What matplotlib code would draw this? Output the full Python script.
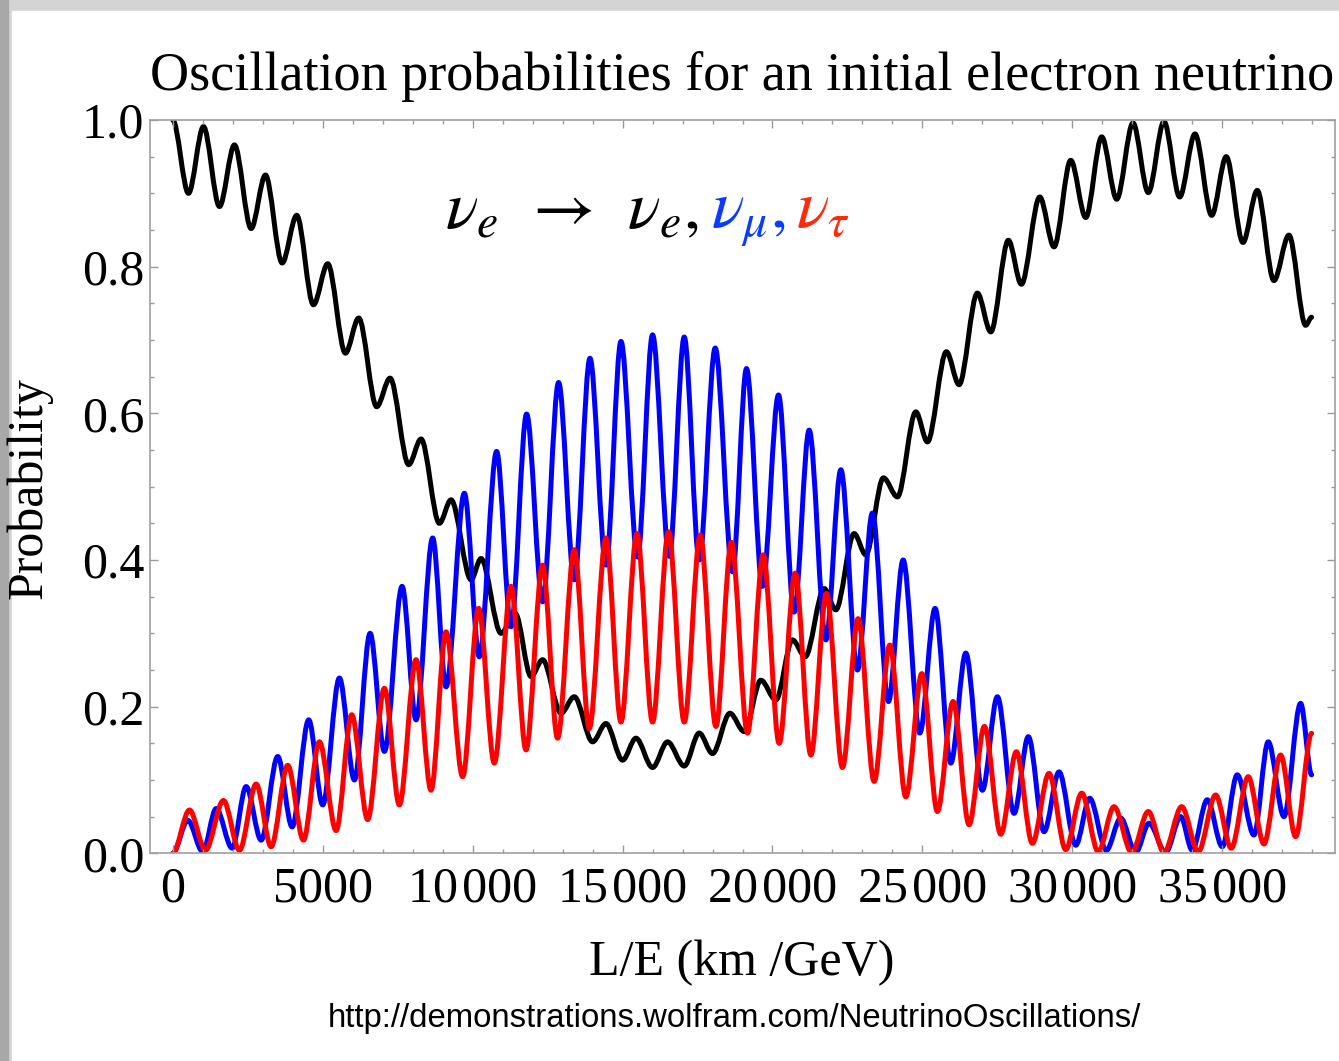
import matplotlib
matplotlib.use("Agg")
import matplotlib.pyplot as plt
from matplotlib.path import Path
from matplotlib.patches import PathPatch, Rectangle
from matplotlib.ticker import MultipleLocator

# extrema (peaks / troughs), L/E in km/GeV
ee_x = [0, 523, 1023, 1557, 2057, 2613, 3090, 3647, 4133, 4690,
        5167, 5757, 6200, 6800, 7247, 7867, 8280, 8890, 9280, 9947,
        10280, 10947, 11423, 11947, 12333, 12947, 13390, 14000, 14447, 15000,
        15447, 16000, 16500, 17057, 17557, 18000, 18580, 19057, 19613, 20113,
        20667, 21090, 21723, 22113, 22723, 23113, 23700, 24167, 24780, 25167,
        25800, 26223, 26833, 27280, 27867, 28300, 28913, 29390, 29947, 30447,
        30980, 31480, 32023, 32533, 33057, 33580, 34090, 34647, 35133, 35690,
        36167, 36723, 37223, 37780, 37980]
ee_p = [1.0, 0.900, 0.991, 0.882, 0.966, 0.852, 0.925, 0.805, 0.870, 0.748,
        0.804, 0.682, 0.730, 0.609, 0.648, 0.530, 0.565, 0.450, 0.482, 0.373,
        0.402, 0.300, 0.327, 0.241, 0.264, 0.191, 0.2135, 0.152, 0.177, 0.127,
        0.157, 0.117, 0.152, 0.119, 0.164, 0.136, 0.191, 0.166, 0.236, 0.209,
        0.291, 0.268, 0.361, 0.332, 0.436, 0.407, 0.512, 0.486, 0.602, 0.561,
        0.684, 0.639, 0.764, 0.711, 0.836, 0.776, 0.895, 0.827, 0.945, 0.867,
        0.977, 0.892, 0.996, 0.901, 0.998, 0.895, 0.981, 0.870, 0.950, 0.833,
        0.904, 0.781, 0.843, 0.720, 0.731]

emu_x = [0, 500, 1000, 1447, 1980, 2447, 2947, 3500, 3980, 4533,
         5000, 5557, 6057, 6580, 7057, 7647, 8113, 8667, 9113, 9723,
         10223, 10800, 11280, 11800, 12333, 12867, 13390, 13913, 14447, 14947,
         15500, 16000, 16557, 17057, 17557, 18090, 18667, 19133, 19667, 20200,
         20723, 21223, 21780, 22280, 22833, 23333, 23867, 24357, 24913, 25423,
         25947, 26447, 27000, 27500, 28057, 28533, 29057, 29557, 30113, 30580,
         31133, 31613, 32113, 32557, 33113, 33613, 34000, 34500, 35000, 35500,
         36057, 36533, 37057, 37613, 37980]
emu_p = [0, 0.045, 0.002, 0.061, 0.007, 0.091, 0.018, 0.132, 0.036, 0.182,
         0.066, 0.239, 0.100, 0.300, 0.139, 0.364, 0.182, 0.430, 0.227, 0.491,
         0.268, 0.548, 0.309, 0.599, 0.343, 0.642, 0.373, 0.675, 0.393, 0.698,
         0.404, 0.707, 0.405, 0.704, 0.400, 0.689, 0.384, 0.661, 0.364, 0.625,
         0.329, 0.577, 0.291, 0.523, 0.250, 0.464, 0.207, 0.400, 0.164, 0.334,
         0.123, 0.273, 0.086, 0.2135, 0.0545, 0.159, 0.0295, 0.111, 0.011, 0.075,
         0.004, 0.048, 0.001, 0.041, 0.001, 0.050, 0.004, 0.073, 0.009, 0.107,
         0.025, 0.152, 0.050, 0.2045, 0.107]

etau_x = [0, 557, 1090, 1690, 2223, 2780, 3280, 3833, 4357, 4890,
          5447, 5967, 6500, 7057, 7557, 8113, 8613, 9113, 9667, 10200,
          10723, 11280, 11780, 12333, 12833, 13390, 13890, 14447, 14947, 15480,
          16000, 16533, 17057, 17590, 18113, 18630, 19167, 19690, 20223, 20757,
          21280, 21800, 22333, 22857, 23390, 23913, 24447, 24980, 25500, 26023,
          26557, 27067, 27613, 28133, 28667, 29223, 29780, 30313, 30867, 31390,
          31980, 32533, 33057, 33647, 34200, 34780, 35300, 35867, 36390, 36947,
          37447, 37980]
etau_p = [0, 0.059, 0.004, 0.072, 0.004, 0.0945, 0.009, 0.120, 0.018, 0.152,
          0.031, 0.189, 0.046, 0.225, 0.066, 0.264, 0.086, 0.302, 0.1045, 0.334,
          0.123, 0.364, 0.141, 0.393, 0.157, 0.414, 0.170, 0.430, 0.179, 0.436,
          0.179, 0.4385, 0.179, 0.434, 0.173, 0.424, 0.164, 0.407, 0.150, 0.382,
          0.134, 0.3545, 0.117, 0.320, 0.098, 0.284, 0.077, 0.245, 0.057, 0.207,
          0.039, 0.173, 0.026, 0.1385, 0.0136, 0.109, 0.005, 0.082, 0.002, 0.0636,
          0.001, 0.057, 0.001, 0.0636, 0.002, 0.0795, 0.007, 0.1045, 0.0127, 0.134,
          0.0227, 0.1636]

x_ticks = [0, 5000, 10000, 15000, 20000, 25000, 30000, 35000]
x_ticklabels = ["0", "5000", "10\u200a000", "15\u200a000", "20\u200a000",
                "25\u200a000", "30\u200a000", "35\u200a000"]
y_ticks = [0.0, 0.2, 0.4, 0.6, 0.8, 1.0]


def wave_path(xs, ys):
    # smooth curve through the extrema: horizontal tangent at every peak/trough
    verts = [(xs[0], ys[0])]
    codes = [Path.MOVETO]
    for i in range(len(xs) - 1):
        dx = xs[i + 1] - xs[i]
        verts += [(xs[i] + dx / 3, ys[i]), (xs[i + 1] - dx / 3, ys[i + 1]),
                  (xs[i + 1], ys[i + 1])]
        codes += [Path.CURVE4] * 3
    return Path(verts, codes)


plt.rcParams["font.family"] = ["Liberation Serif", "DejaVu Serif"]
plt.rcParams["mathtext.fontset"] = "stix"

W, H = 1339, 1061
fig = plt.figure(figsize=(W / 100, H / 100), dpi=100)
fig.patch.set_facecolor("#d4d4d4")
fig.add_artist(Rectangle((0, 0), 8 / W, 1, transform=fig.transFigure,
                         color="#a8a8a8", zorder=0))
fig.add_artist(Rectangle((12 / W, 0), 1, 1 - 11 / H, transform=fig.transFigure,
                         color="white", zorder=0))

ax = fig.add_axes([150 / W, 1 - 853.3 / H, 1185 / W, 733.3 / H])
ax.set_facecolor("white")

for xs, ys, col in [(ee_x, ee_p, "black"), (emu_x, emu_p, "#0000ff"),
                    (etau_x, etau_p, "#ff0000")]:
    ax.add_patch(PathPatch(wave_path(xs, ys), fill=False, edgecolor=col,
                           linewidth=3.6, capstyle="round", joinstyle="round"))

ax.set_xlim(-760, 38760)
ax.set_ylim(0, 1)
ax.set_xticks(x_ticks)
ax.set_xticklabels(x_ticklabels)
ax.set_yticks(y_ticks)
ax.set_yticklabels([f"{v:.1f}" for v in y_ticks])
ax.xaxis.set_minor_locator(MultipleLocator(1000))
ax.yaxis.set_minor_locator(MultipleLocator(0.05))
ax.tick_params(which="both", direction="in", top=True, right=True,
               color="#9a9a9a", width=1.0)
ax.tick_params(which="major", length=6)
ax.tick_params(which="minor", length=3)
ax.tick_params(axis="x", labelsize=36, pad=9)
ax.tick_params(axis="y", labelsize=36, pad=4)
for s in ax.spines.values():
    s.set_color("#a0a0a0")
    s.set_linewidth(1.2)

fig.text(742 / W, 1 - 90 / H, "Oscillation probabilities for an initial electron neutrino",
         ha="center", va="baseline", fontsize=39)
fig.text(742 / W, 1 - 963 / H, "L/E (km /GeV)", ha="center", va="center", fontsize=36)
fig.text(29 / W, 1 - 488 / H, "Probability", ha="center", va="center",
         rotation=90, fontsize=36)
fig.text(734 / W, 1 - 1018 / H, "http://demonstrations.wolfram.com/NeutrinoOscillations/",
         ha="center", va="center", fontsize=23.7, family="Liberation Sans")

# coloured formula, pieces placed one after another on the same baseline
renderer = fig.canvas.get_renderer()
x_px, base = 445, H - 228
for s, col, gap in [(r"$\nu_e\;\,\rightarrow\;\,\nu_e,$", "black", 12),
                    (r"$\nu_\mu,$", "#0a3cff", 10),
                    (r"$\nu_\tau$", "#ff2a0a", 0)]:
    t = fig.text(x_px / W, base / H, s, color=col, fontsize=49,
                 ha="left", va="baseline")
    bb = t.get_window_extent(renderer)
    x_px = bb.x1 + gap

fig.savefig("out.png", dpi=100, facecolor=fig.get_facecolor())
